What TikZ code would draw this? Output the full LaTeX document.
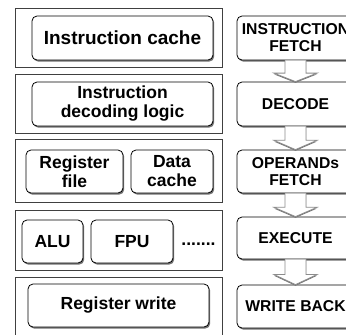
\documentclass[tikz,border=0pt]{standalone}
\usepackage{fontspec}
\setmainfont{Liberation Sans}
\usetikzlibrary{shadows,calc}
\tikzset{
  outerbox/.style={draw=black!75, line width=1bp, fill=white, inner sep=0pt},
  inbox/.style={draw=black, line width=0.8bp, rounded corners=5bp, fill=white,
    drop shadow={shadow xshift=1.2bp, shadow yshift=-1.6bp, fill=black!55, opacity=1},
    align=center, inner sep=0pt, font=\fontsize{17.5bp}{19bp}\selectfont\bfseries},
  stagebox/.style={inbox, minimum width=117bp, minimum height=44bp,
    font=\fontsize{15.7bp}{17bp}\selectfont\bfseries},
  flowarrow/.style={draw=black!45, fill=white, line width=0.8bp,
    drop shadow={shadow xshift=0bp, shadow yshift=-1.2bp, fill=black!55, opacity=1}}
}
\newcommand{\blockarrow}[2]{%
  \draw[flowarrow] ([xshift=-10.5bp]#1.south)
    -- ([xshift=-10.5bp]$(#1.south)!0.6!(#2.north)$)
    -- ([xshift=-21.5bp]$(#1.south)!0.6!(#2.north)$)
    -- (#2.north)
    -- ([xshift=21.5bp]$(#1.south)!0.6!(#2.north)$)
    -- ([xshift=10.5bp]$(#1.south)!0.6!(#2.north)$)
    -- ([xshift=10.5bp]#1.south);}
\begin{document}
\begin{tikzpicture}[x=1bp,y=-1bp]
\useasboundingbox (0,0) rectangle (346,335);
\clip (0,0) rectangle (346,335);
\fill[white] (0,0) rectangle (346,335);
% outer stage boxes
\node[outerbox, minimum width=206bp, minimum height=59bp] (o1) at (119,37.5) {};
\node[outerbox, minimum width=206bp, minimum height=59bp] (o2) at (119,103.5) {};
\node[outerbox, minimum width=206bp, minimum height=63bp] (o3) at (119,170.5) {};
\node[outerbox, minimum width=206bp, minimum height=60bp] (o4) at (119,240) {};
\node[outerbox, minimum width=206bp, minimum height=68bp] (o5) at (119,311) {};
% left inner boxes
\node[inbox, minimum width=181bp, minimum height=44bp,
  font=\fontsize{19bp}{20bp}\selectfont\bfseries] (ic) at (122.5,38) {Instruction cache};
\node[inbox, minimum width=181bp, minimum height=44bp] (idl) at (122.5,104) {Instruction\\decoding logic};
\node[inbox, minimum width=97bp, minimum height=43bp] (rf) at (74.5,171.5) {Register\\file};
\node[inbox, minimum width=82bp, minimum height=43bp] (dc) at (172,171.5) {Data\\cache};
\node[inbox, minimum width=61bp, minimum height=43bp] (alu) at (52.5,241.5) {ALU};
\node[inbox, minimum width=82bp, minimum height=43bp] (fpu) at (132,241.5) {FPU};
\node[anchor=base, inner sep=0pt, font=\fontsize{17.5bp}{19bp}\selectfont\bfseries] (dots) at (198.5,245.5) {.......};
\node[inbox, minimum width=181bp, minimum height=43bp] (rw) at (118.5,305.5) {Register write};
% right stage boxes
\node[stagebox] (f) at (295.5,38) {INSTRUCTION\\FETCH};
\node[stagebox] (d) at (295.5,104) {DECODE};
\node[stagebox, minimum height=43bp] (op) at (295.5,171.5) {OPERANDs\\FETCH};
\node[stagebox, minimum height=42bp] (ex) at (295.5,238) {EXECUTE};
\node[stagebox, minimum height=43bp] (wb) at (295.5,306.5) {WRITE BACK};
% arrows
\blockarrow{f}{d}
\blockarrow{d}{op}
\blockarrow{op}{ex}
\blockarrow{ex}{wb}
\end{tikzpicture}
\end{document}
